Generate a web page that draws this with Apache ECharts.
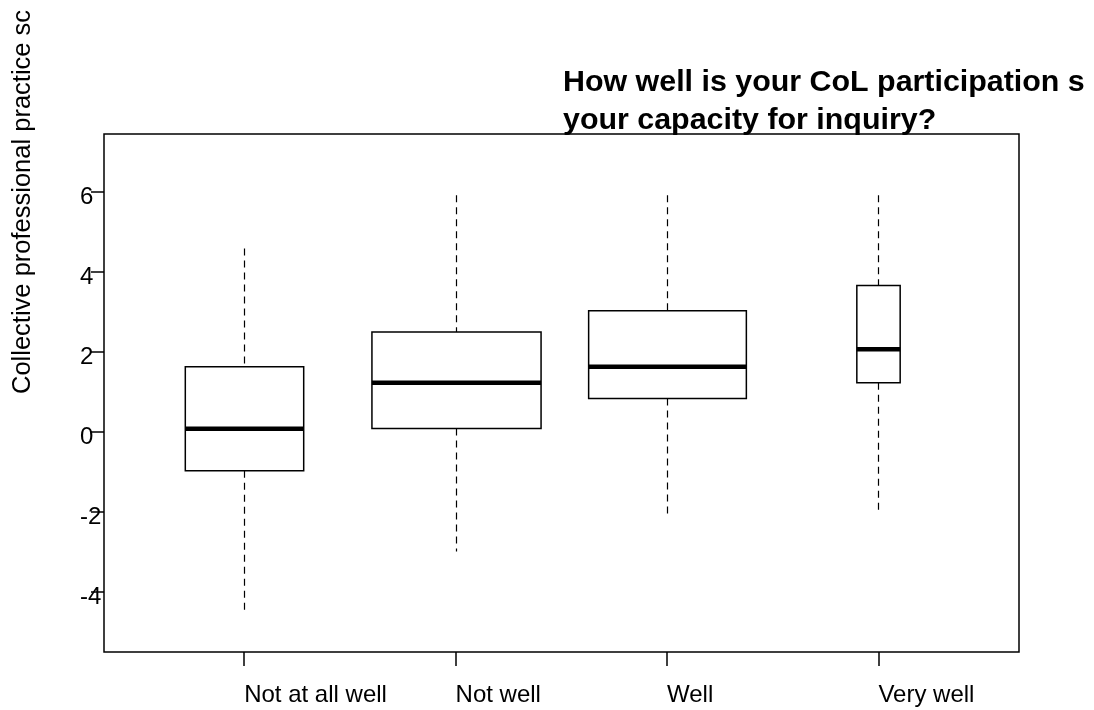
<!DOCTYPE html>
<html>
<head>
<meta charset="utf-8">
<script src="https://cdn.jsdelivr.net/npm/echarts@6/dist/echarts.min.js"></script>
<style>
  html, body { margin: 0; padding: 0; background: #fff; }
  #chart { width: 1094px; height: 710px; }
</style>
</head>
<body>
<div id="chart"></div>
<script>
// Box-plot summaries per response group
const categories = ['Not at all well', 'Not well', 'Well', 'Very well'];
const whiskerLow  = [-4.48, -2.99, -2.10, -2.07];
const lowerQuart  = [-0.97, 0.09, 0.84, 1.23];
const medians     = [0.08, 1.23, 1.63, 2.07];
const upperQuart  = [1.63, 2.50, 3.03, 3.66];
const whiskerHigh = [4.59, 5.92, 5.92, 5.92];
const yTicks = [-4, -2, 0, 2, 4, 6];
const xTicks = [1, 2, 3, 4];

// Box widths (in category units), proportional to group size
const BOX_WIDTH = [0.56, 0.80, 0.746, 0.205];

const FONT = "'Liberation Sans', Arial, Helvetica, sans-serif";

const boxData = categories.map((c, i) => [
  i + 1, whiskerLow[i], lowerQuart[i], medians[i], upperQuart[i], whiskerHigh[i]
]);

function renderBox(params, api) {
  const i = params.dataIndex;
  const x = api.value(0);
  const pLow  = api.coord([x, api.value(1)]);
  const pQ1   = api.coord([x, api.value(2)]);
  const pMed  = api.coord([x, api.value(3)]);
  const pQ3   = api.coord([x, api.value(4)]);
  const pHigh = api.coord([x, api.value(5)]);
  const halfW = api.size([BOX_WIDTH[i], 0])[0] / 2;
  const cx = Math.round(pMed[0]) + 0.5;
  const dash = { stroke: '#000', lineWidth: 1.2, lineDash: [7, 5], fill: null };
  return {
    type: 'group',
    children: [
      { type: 'line', shape: { x1: cx, y1: pHigh[1], x2: cx, y2: pQ3[1] }, style: dash },
      { type: 'line', shape: { x1: cx, y1: pQ1[1], x2: cx, y2: pLow[1] }, style: dash },
      { type: 'rect',
        shape: { x: cx - halfW, y: pQ3[1], width: 2 * halfW, height: pQ1[1] - pQ3[1] },
        style: { fill: '#fff', stroke: '#000', lineWidth: 1.5 } },
      { type: 'line',
        shape: { x1: cx - halfW, y1: pMed[1], x2: cx + halfW, y2: pMed[1] },
        style: { stroke: '#000', lineWidth: 4.5 } }
    ]
  };
}

const chart = echarts.init(document.getElementById('chart'), null, { renderer: 'canvas' });

chart.setOption({
  backgroundColor: '#fff',
  animation: false,
  textStyle: { fontFamily: FONT },
  title: {
    text: 'How well is your CoL participation s\nyour capacity for inquiry?',
    left: 563,
    top: 64,
    padding: 0,
    textStyle: {
      fontFamily: FONT,
      fontSize: 30.4,
      fontWeight: 'bold',
      color: '#000',
      lineHeight: 38
    }
  },
  grid: {
    left: 104,
    top: 134,
    width: 915,
    height: 518,
    show: true,
    borderColor: '#000',
    borderWidth: 1.5,
    backgroundColor: 'transparent'
  },
  xAxis: {
    type: 'value',
    min: 0.337,
    max: 4.665,
    axisLine: { show: false, onZero: false },
    splitLine: { show: false },
    axisTick: {
      show: true,
      length: 14,
      customValues: xTicks,
      lineStyle: { color: '#000', width: 1.5 }
    },
    axisLabel: {
      customValues: xTicks,
      formatter: v => categories[Math.round(v) - 1] || '',
      align: 'left',
      verticalAlign: 'middle',
      margin: 43,
      fontSize: 24,
      fontFamily: FONT,
      color: '#000'
    }
  },
  yAxis: {
    type: 'value',
    min: -5.5,
    max: 7.45,
    axisLine: { show: false, onZero: false },
    splitLine: { show: false },
    axisTick: {
      show: true,
      length: 13,
      customValues: yTicks,
      lineStyle: { color: '#000', width: 1.5 }
    },
    axisLabel: {
      customValues: yTicks,
      align: 'left',
      verticalAlign: 'top',
      lineHeight: 10,
      margin: 24,
      fontSize: 24,
      fontFamily: FONT,
      color: '#000'
    }
  },
  graphic: [
    {
      type: 'text',
      x: 23,
      y: 394,
      rotation: Math.PI / 2,
      style: {
        text: 'Collective professional practice sc',
        font: '25.5px ' + FONT,
        fill: '#000',
        textAlign: 'left',
        textVerticalAlign: 'middle'
      }
    }
  ],
  series: [
    {
      type: 'custom',
      renderItem: renderBox,
      encode: { x: 0, y: [1, 2, 3, 4, 5] },
      data: boxData
    }
  ]
});
</script>
</body>
</html>
